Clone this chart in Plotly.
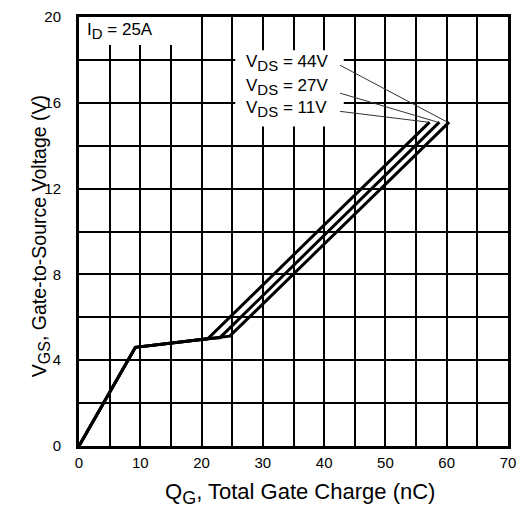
import plotly.graph_objects as go

# Gate charge curves, I_D = 25 A
vds_labels = ["44V", "27V", "11V"]
qg_44 = [0, 9.2, 21.0, 24.6, 60.4]
vgs_44 = [0, 4.6, 5.0, 5.12, 15.1]
qg_27 = [0, 9.2, 21.0, 23.0, 58.8]
vgs_27 = [0, 4.6, 5.0, 5.05, 15.1]
qg_11 = [0, 9.2, 21.0, 57.2]
vgs_11 = [0, 4.6, 5.0, 15.1]

x_ticks = [0, 10, 20, 30, 40, 50, 60, 70]
y_ticks = [0, 4, 8, 12, 16, 20]

FONT = "Liberation Sans, Arial, sans-serif"


def sub(text, size):
    return f"<sub><span style='font-size:{size}px'>{text}</span></sub>"


fig = go.Figure()
for q, v in [(qg_44, vgs_44), (qg_27, vgs_27), (qg_11, vgs_11)]:
    fig.add_trace(go.Scatter(x=q, y=v, mode="lines",
                             line=dict(color="black", width=3),
                             showlegend=False, hoverinfo="skip"))

# white panels behind the labels
shapes = [
    dict(type="rect", xref="x", yref="y", x0=0, x1=19, y0=18.7, y1=20,
         fillcolor="white", line=dict(width=0), layer="between"),
    dict(type="rect", xref="x", yref="y", x0=25.5, x1=43.2, y0=14.9, y1=18.45,
         fillcolor="white", line=dict(width=0), layer="between"),
]

label_y = [17.85, 16.75, 15.7]
leader_y = [17.75, 16.45, 15.6]
ends = [(qg_44[-1], vgs_44[-1]), (qg_27[-1], vgs_27[-1]), (qg_11[-1], vgs_11[-1])]
annotations = []
for text, ly, sy, (ex, ey) in zip(vds_labels, label_y, leader_y, ends):
    annotations.append(dict(x=27.0, y=ly, xref="x", yref="y",
                            text="V" + sub("DS", 15) + " = " + text,
                            showarrow=False, xanchor="left", yanchor="middle",
                            font=dict(family=FONT, size=17, color="black")))
    shapes.append(dict(type="line", xref="x", yref="y", x0=42.6, y0=sy,
                       x1=ex - 0.3, y1=ey, line=dict(color="#333", width=1),
                       layer="above"))

annotations.append(dict(x=1.0, y=19.35, xref="x", yref="y",
                        text="I" + sub("D", 15) + " = 25A", showarrow=False,
                        xanchor="left", yanchor="middle",
                        font=dict(family=FONT, size=17, color="black")))

# axis titles
annotations.append(dict(x=0.515, y=-0.11, xref="paper", yref="paper",
                        text="Q" + sub("G", 18) + ", Total Gate Charge (nC)",
                        showarrow=False, xanchor="center", yanchor="middle",
                        font=dict(family=FONT, size=22, color="black")))
annotations.append(dict(x=-0.09, y=0.49, xref="paper", yref="paper",
                        text="V" + sub("GS", 16) + ", Gate-to-Source Voltage (V)",
                        textangle=-90, showarrow=False,
                        xanchor="center", yanchor="middle",
                        font=dict(family=FONT, size=19.5, color="black")))

axis_common = dict(showline=True, linecolor="black", linewidth=3, mirror=True,
                   showgrid=True, gridcolor="black", gridwidth=2,
                   zeroline=False, ticks="",
                   tickfont=dict(family=FONT, size=15, color="black"))

fig.update_layout(
    width=529, height=509,
    margin=dict(l=79, r=21, t=8, b=63),
    paper_bgcolor="white", plot_bgcolor="white",
    xaxis=dict(range=[0, 70], tickvals=x_ticks, ticklabelstandoff=1,
               minor=dict(dtick=5, showgrid=True, gridcolor="black", gridwidth=1.5),
               **axis_common),
    yaxis=dict(range=[0, 20], tickvals=y_ticks, ticklabelstandoff=12,
               minor=dict(dtick=2, showgrid=True, gridcolor="black", gridwidth=1.5),
               **axis_common),
    shapes=shapes,
    annotations=annotations,
)

fig.write_html("out.html")
